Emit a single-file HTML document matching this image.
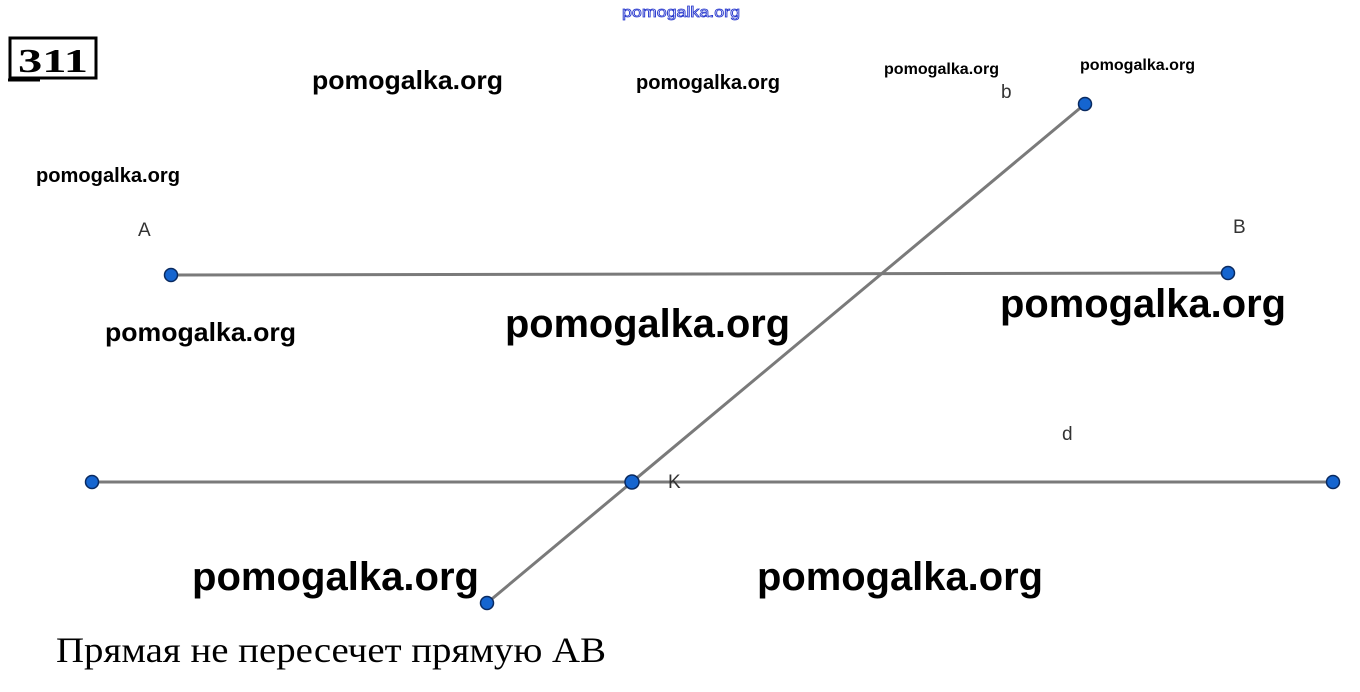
<!DOCTYPE html>
<html><head><meta charset="utf-8"><style>
html,body{margin:0;padding:0;background:#fff;}
svg{display:block;}
.w{font-family:"Liberation Sans",sans-serif;font-weight:bold;fill:#000;}
.l{font-family:"Liberation Sans",sans-serif;fill:#333;font-size:19px;}
</style></head><body>
<svg width="1360" height="692" viewBox="0 0 1360 692" xmlns="http://www.w3.org/2000/svg">
<rect width="1360" height="692" fill="#fff"/>
<text x="622" y="17" font-family="Liberation Sans,sans-serif" font-size="15" fill="#fff" stroke="#2233cc" stroke-width="0.8" textLength="118" lengthAdjust="spacingAndGlyphs">pomogalka.org</text>
<rect x="10" y="38" width="86" height="40" fill="#fff" stroke="#000" stroke-width="3"/>
<line x1="8" y1="80" x2="40" y2="80" stroke="#000" stroke-width="3"/>
<text x="18" y="72" font-family="Liberation Serif,serif" font-weight="bold" font-size="34" textLength="70" lengthAdjust="spacingAndGlyphs">311</text>
<text class="w" x="312" y="89" font-size="26" textLength="191" lengthAdjust="spacingAndGlyphs">pomogalka.org</text>
<text class="w" x="636" y="89" font-size="20" textLength="144" lengthAdjust="spacingAndGlyphs">pomogalka.org</text>
<text class="w" x="884" y="74" font-size="16" textLength="115" lengthAdjust="spacingAndGlyphs">pomogalka.org</text>
<text class="w" x="1080" y="70" font-size="16" textLength="115" lengthAdjust="spacingAndGlyphs">pomogalka.org</text>
<text class="w" x="36" y="182" font-size="20" textLength="144" lengthAdjust="spacingAndGlyphs">pomogalka.org</text>
<text class="w" x="105" y="341" font-size="26" textLength="191" lengthAdjust="spacingAndGlyphs">pomogalka.org</text>
<text class="w" x="505" y="337" font-size="40" textLength="285" lengthAdjust="spacingAndGlyphs">pomogalka.org</text>
<text class="w" x="1000" y="317" font-size="40" textLength="286" lengthAdjust="spacingAndGlyphs">pomogalka.org</text>
<text class="w" x="192" y="590" font-size="40" textLength="287" lengthAdjust="spacingAndGlyphs">pomogalka.org</text>
<text class="w" x="757" y="590" font-size="40" textLength="286" lengthAdjust="spacingAndGlyphs">pomogalka.org</text>
<line x1="171" y1="275" x2="1228" y2="273" stroke="#7a7a7a" stroke-width="3"/>
<line x1="92" y1="482" x2="1333" y2="482" stroke="#7a7a7a" stroke-width="3"/>
<line x1="487" y1="603" x2="1085" y2="104" stroke="#7a7a7a" stroke-width="3"/>
<g fill="#1565d0" stroke="#0a2a60" stroke-width="1.5">
<circle cx="171" cy="275" r="6.5"/><circle cx="1228" cy="273" r="6.5"/>
<circle cx="92" cy="482" r="6.5"/><circle cx="1333" cy="482" r="6.5"/>
<circle cx="632" cy="482" r="7"/><circle cx="487" cy="603" r="6.5"/>
<circle cx="1085" cy="104" r="6.5"/>
</g>
<text class="l" x="138" y="236">A</text>
<text class="l" x="1233" y="233">B</text>
<text class="l" x="1001" y="98">b</text>
<text class="l" x="1062" y="440">d</text>
<text class="l" x="668" y="488">K</text>
<text x="56" y="662" font-family="Liberation Serif,serif" font-size="36" fill="#000" textLength="550" lengthAdjust="spacingAndGlyphs">Прямая не пересечет прямую АВ</text>
</svg>
</body></html>
